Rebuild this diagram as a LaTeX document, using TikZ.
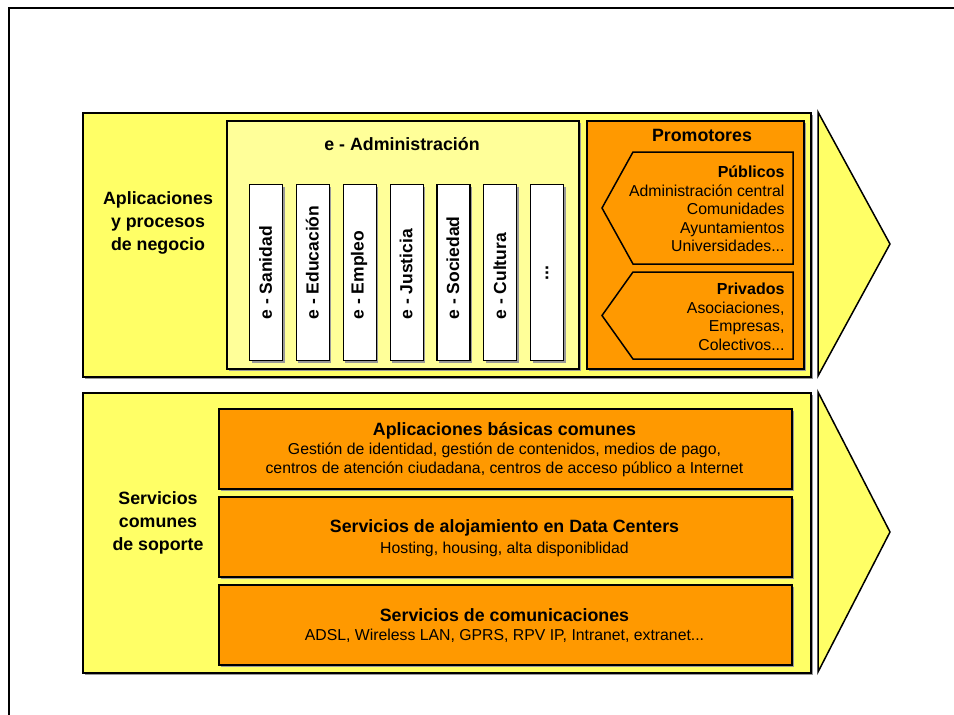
\documentclass[tikz,border=0pt]{standalone}
\usepackage{fontspec}
\setmainfont{Liberation Sans}
\usepackage{tikz}
\usetikzlibrary{positioning,shadows}
\definecolor{amarillo}{HTML}{FFFF66}
\definecolor{amarilloclaro}{HTML}{FFFF99}
\definecolor{naranja}{HTML}{FF9900}
\tikzstyle{sombra}=[drop shadow={shadow xshift=2pt, shadow yshift=-2pt,
        fill=black!40, opacity=1}]
\tikzstyle{capa}=[draw=black, fill=amarillo, line width=1.5pt, sombra,
        anchor=north west, inner sep=0pt]
\tikzstyle{bloque}=[draw=black, fill=naranja, line width=1.5pt, sombra,
        anchor=north west, inner sep=0pt]
\tikzstyle{columna}=[draw=black, fill=white, line width=1.2pt, sombra,
        anchor=north west, inner sep=0pt, minimum width=33pt,
        minimum height=176pt]
\tikzstyle{titulo}=[font=\fontsize{17.8}{23}\selectfont\bfseries,
        align=center]
\tikzstyle{texto}=[font=\fontsize{15.8}{18.5}\selectfont, align=center]

\begin{document}
\begin{tikzpicture}[x=1pt, y=-1pt]

        \useasboundingbox (0,0) rectangle (954,715);
        \draw[line width=2pt] (8.5,715) -- (8.5,7.5) -- (954,7.5);

        % capa superior
        \node[capa, minimum width=728pt, minimum height=264pt] (procesos)
            at (82,112) {};
        \draw[fill=amarillo, line width=1.5pt] (818,112) -- (890,244)
            -- (818,376) -- cycle;
        \node[titulo] (lprocesos) at (158,223)
            {Aplicaciones\\y procesos\\de negocio};

        \node[capa, fill=amarilloclaro, minimum width=352pt,
            minimum height=248pt] (eadmin) at (226,120) {};
        \node[titulo] (teadmin) at (402,144) {e - Administración};
        \foreach \i/\nombre in {0/Sanidad, 1/Educación, 2/Empleo,
            3/Justicia, 4/Sociedad, 5/Cultura} {
            \node[columna] (col\i) at ({249+\i*46.85},184) {};
            \node[titulo, rotate=90, anchor=west,
                font=\fontsize{17.5}{23}\selectfont\bfseries] (et\i)
                at ({265.5+\i*46.85},323) {e - \nombre};
        }
        \node[columna] (col6) at (530,184) {};
        \node[titulo, rotate=90] (et6) at (col6.center) {...};

        \node[bloque, minimum width=217pt, minimum height=248pt] (promotores)
            at (586,120) {};
        \node[titulo] (tpromotores) at (702,135) {Promotores};
        \draw[fill=naranja, line width=1.5pt] (793,152) -- (633,152)
            -- (602,208) -- (633,264) -- (793,264) -- cycle;
        \draw[fill=naranja, line width=1.5pt] (793,272) -- (633,272)
            -- (602,315.5) -- (633,359) -- (793,359) -- cycle;
        \node[texto, align=right, anchor=east] (publicos) at (788,209)
            {{\fontsize{16}{19}\selectfont\bfseries Públicos}\\
            Administración central\\Comunidades\\Ayuntamientos\\
            Universidades...};
        \node[texto, align=right, anchor=east] (privados) at (788,317)
            {{\fontsize{16}{19}\selectfont\bfseries Privados}\\
            Asociaciones,\\Empresas,\\Colectivos...};

        % capa inferior
        \node[capa, minimum width=728pt, minimum height=280pt] (soporte)
            at (82,392) {};
        \draw[fill=amarillo, line width=1.5pt] (818,392) -- (890,532)
            -- (818,672) -- cycle;
        \node[titulo] (lsoporte) at (158,523)
            {Servicios\\comunes\\de soporte};

        \node[bloque, minimum width=573pt, minimum height=80pt] (basicas)
            at (218,408) {};
        \node[titulo] (tbasicas) at (504.5,431)
            {Aplicaciones básicas comunes};
        \node[texto] (dbasicas) at (504.5,460)
            {Gestión de identidad, gestión de contenidos, medios de pago,\\
            centros de atención ciudadana, centros de acceso público a Internet};

        \node[bloque, minimum width=573pt, minimum height=80pt] (alojamiento)
            at (218,496) {};
        \node[titulo] (talojamiento) at (504.5,528)
            {Servicios de alojamiento en Data Centers};
        \node[texto] (dalojamiento) at (504.5,549)
            {Hosting, housing, alta disponiblidad};

        \node[bloque, minimum width=573pt, minimum height=80pt]
            (comunicaciones) at (218,584) {};
        \node[titulo] (tcomunicaciones) at (504.5,615)
            {Servicios de comunicaciones};
        \node[texto] (dcomunicaciones) at (504.5,636)
            {ADSL, Wireless LAN, GPRS, RPV IP, Intranet, extranet...};

    \end{tikzpicture}
\end{document}
